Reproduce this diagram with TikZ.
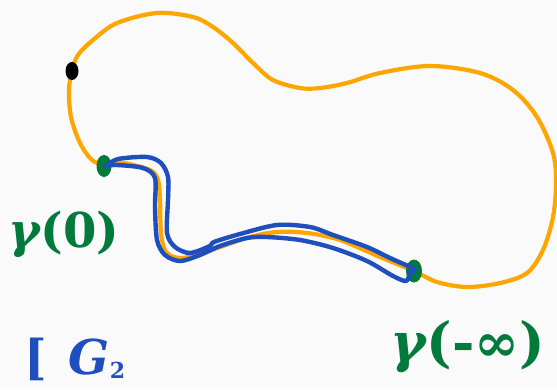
\documentclass[tikz,border=0pt]{standalone}
\usepackage{fontspec}
\newfontfamily\lblfont{DejaVu Serif}
\usetikzlibrary{shapes.geometric}
\definecolor{bgc}{HTML}{FAFAFA}
\definecolor{orng}{HTML}{FFA500}
\definecolor{blu}{HTML}{1F4FBE}
\definecolor{grn}{HTML}{017A3B}
\tikzset{
  orangepath/.style={draw=orng, line width=4.2pt, line cap=round, line join=round},
  bluepath/.style={draw=blu, line width=4.4pt, line cap=round, line join=round},
  gdot/.style={ellipse, fill=grn, inner sep=0pt},
  glabel/.style={text=grn, inner sep=0pt, font=\lblfont\bfseries\fontsize{48}{54}\selectfont},
}
\begin{document}
\begin{tikzpicture}[x=1pt,y=-1pt]
\fill[bgc] (0,0) rectangle (557,389);
\useasboundingbox (0,0) rectangle (557,389);
\clip (0,0) rectangle (557,389);
% orange loop
\draw[orangepath] plot[smooth cycle, tension=0.55] coordinates {
(72,71) (78,55) (93,40) (117,23) (157,13) (193,17) (213,27) (233,43) (253,63)
(273,80) (300,88) (320,88) (347,83) (380,73) (430,66) (480,73) (513,90) (537,117)
(553,153) (556,183) (553,217) (543,250) (527,273) (500,283) (467,287) (437,282)
(414,271) (380,257) (340,240) (307,233) (277,232) (250,237) (220,247) (200,254)
(180,258) (166,252) (161,233) (160,200) (158,180) (150,170) (123,163) (104,164)
(92,160) (80,143) (71,117) (69,90)};
% black point
\node[ellipse, fill=black, minimum width=13pt, minimum height=18pt, inner sep=0pt] (p) at (72,71) {};
% green points
\node[gdot, minimum width=15pt, minimum height=22pt] (g0) at (104,166) {};
\node[gdot, minimum width=16pt, minimum height=23pt] (g1) at (414,271) {};
% blue lasso
\draw[bluepath] plot[smooth, tension=0.5] coordinates {
(106,166) (118,159) (147,157) (161,163) (168,177) (168,200) (167,233) (175,247)
(190,253) (210,246) (214,242) (240,234) (277,225) (310,227) (333,235) (367,247)
(390,258) (415,269)};
\draw[bluepath] plot[smooth, tension=0.5] coordinates {
(415,269) (410,274) (406,281) (393,276) (367,261) (333,248) (300,240) (267,237) (247,238)
(220,246) (200,255) (180,261) (165,255) (157,240) (155,207) (155,178) (143,168)
(117,165) (106,166)};
% labels
\node[glabel] (l0) at (64,234) {\itshape γ\upshape(0)};
\node[glabel, font=\lblfont\bfseries\fontsize{54}{60}\selectfont] (l1) at (468,347) {\itshape γ\upshape(-∞)};
\node[text=blu, inner sep=0pt, font=\lblfont\bfseries\fontsize{48}{54}\selectfont, anchor=base west] (lg) at (24,374) {[\hspace{22pt}\itshape G\raisebox{-4pt}{\fontsize{22}{26}\selectfont\upshape 2}};
\end{tikzpicture}
\end{document}
